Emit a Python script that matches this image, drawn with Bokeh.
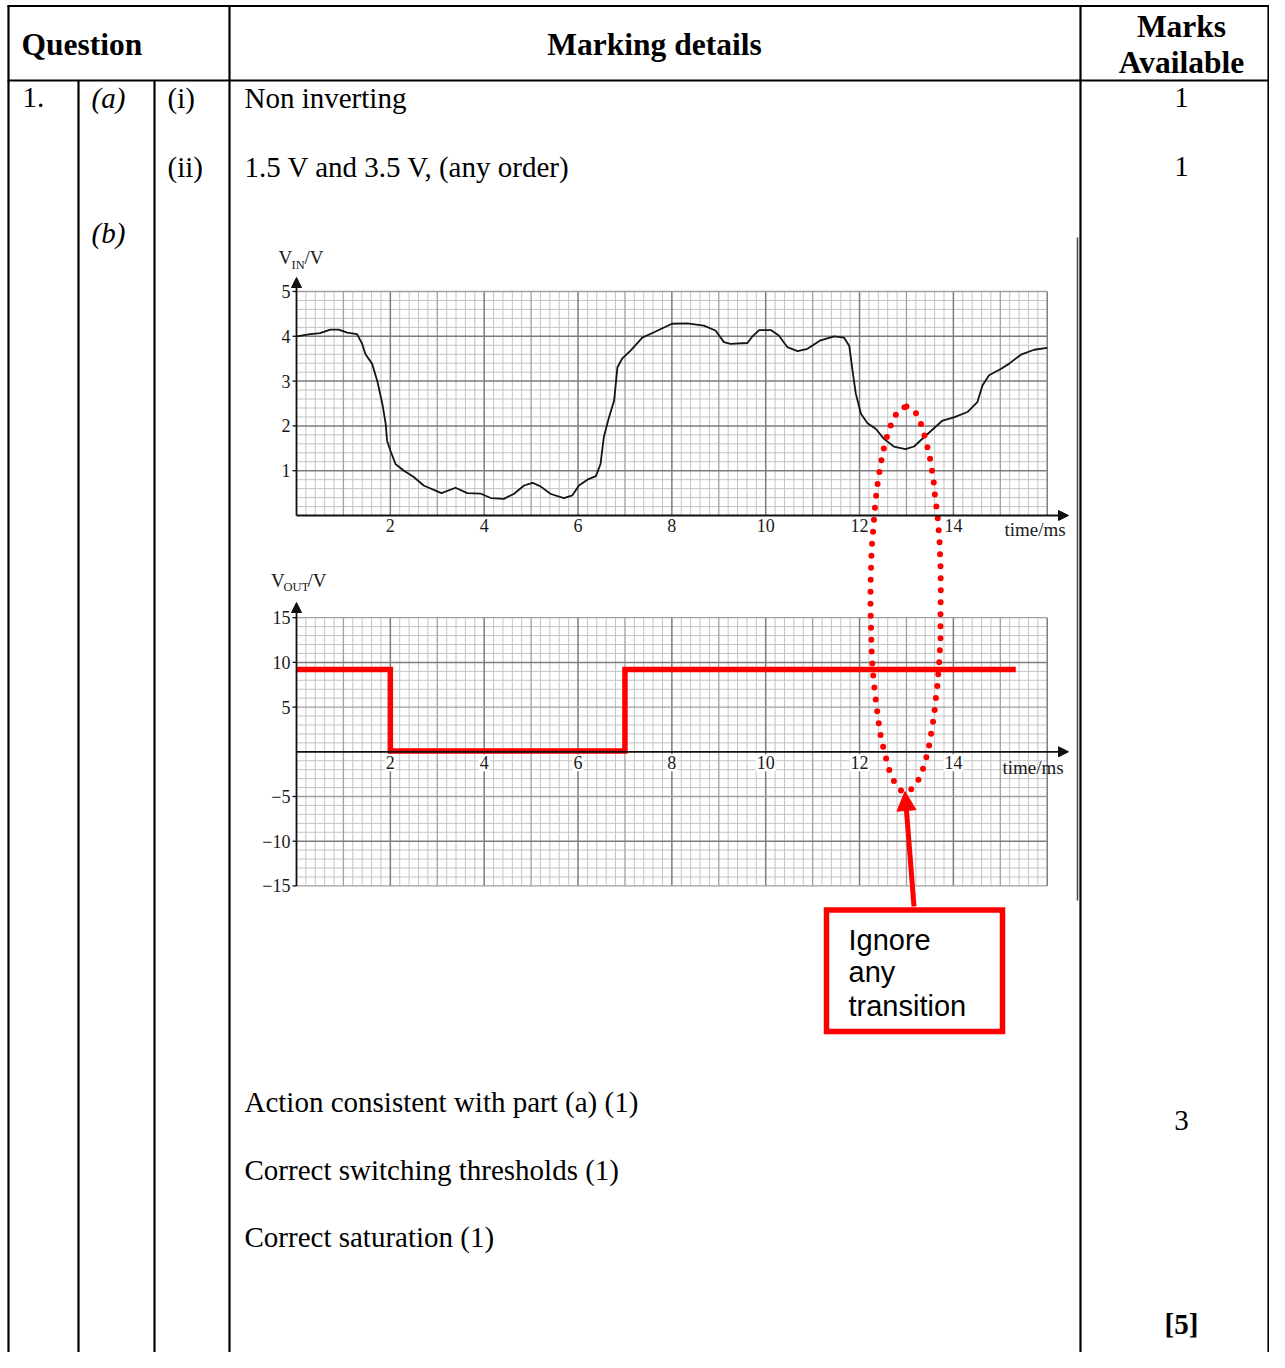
import numpy as np
from bokeh.plotting import figure
from bokeh.models import Range1d, Arrow, NormalHead
from bokeh.core.properties import value
from bokeh.embed import file_html
from bokeh.resources import INLINE

# ---------------- data ----------------
vin_t = [0, 0.3, 0.5, 0.72, 0.9, 1.08, 1.29, 1.4, 1.47, 1.61, 1.72, 1.83, 1.9, 1.93,
         2.0, 2.11, 2.29, 2.5, 2.71, 3.0, 3.09, 3.39, 3.64, 3.92, 4.14, 4.42, 4.63,
         4.85, 5.03, 5.2, 5.42, 5.7, 5.88, 6.02, 6.2, 6.38, 6.48, 6.55, 6.66, 6.77,
         6.84, 6.94, 7.12, 7.37, 7.62, 8.0, 8.33, 8.68, 8.93, 9.11, 9.25, 9.61, 9.72,
         9.86, 10.11, 10.28, 10.46, 10.68, 10.89, 11.17, 11.46, 11.67, 11.78, 11.85,
         11.92, 12.03, 12.17, 12.35, 12.52, 12.73, 12.98, 13.16, 13.45, 13.77, 14.01,
         14.3, 14.51, 14.62, 14.76, 15.01, 15.19, 15.44, 15.72, 16.0]
vin_v = [4.0, 4.05, 4.07, 4.15, 4.15, 4.08, 4.05, 3.83, 3.6, 3.39, 3.01, 2.49, 2.05, 1.67,
         1.45, 1.15, 1.0, 0.86, 0.67, 0.54, 0.5, 0.62, 0.5, 0.49, 0.39, 0.37, 0.48,
         0.67, 0.73, 0.65, 0.48, 0.39, 0.45, 0.67, 0.8, 0.88, 1.15, 1.75, 2.19, 2.57,
         3.31, 3.5, 3.68, 3.97, 4.09, 4.28, 4.29, 4.24, 4.13, 3.87, 3.83, 3.85, 4.0,
         4.14, 4.14, 4.02, 3.76, 3.67, 3.72, 3.91, 4.0, 3.97, 3.79, 3.24,
         2.72, 2.27, 2.06, 1.93, 1.71, 1.54, 1.48, 1.54, 1.82, 2.12, 2.19,
         2.31, 2.53, 2.9, 3.13, 3.27, 3.39, 3.59, 3.7, 3.74]
vout_t = [0, 2, 2, 7, 7, 15.33]
vout_v = [9.2, 9.2, 0.1, 0.1, 9.2, 9.2]

time_ticks = [2, 4, 6, 8, 10, 12, 14]
time_labels = ["2", "4", "6", "8", "10", "12", "14"]
vin_ticks = [1, 2, 3, 4, 5]
vin_labels = ["1", "2", "3", "4", "5"]
vout_ticks = [-15, -10, -5, 5, 10, 15]
vout_labels = ["\u221215", "\u221210", "\u22125", "5", "10", "15"]

header_texts = ["Question", "Marking details", "Marks", "Available"]
question_no = ["1."]
part_texts = ["(a)", "(b)"]
subpart_texts = ["(i)", "(ii)"]
answer_texts = ["Non inverting", "1.5 V and 3.5 V, (any order)",
                "Action consistent with part (a) (1)",
                "Correct switching thresholds (1)", "Correct saturation (1)"]
mark_texts = ["1", "1", "3"]
total_text = ["[5]"]
note_texts = ["Ignore", "any", "transition"]

# ---------------- layout ----------------
W, H = 1269, 1352
SERIF = value("Liberation Serif")
SANS = value("Liberation Sans")

p = figure(width=W, height=H, x_range=Range1d(0, W), y_range=Range1d(H, 0),
           output_backend="svg", toolbar_location=None,
           x_axis_location=None, y_axis_location=None, min_border=0,
           outline_line_color=None, background_fill_color="white",
           border_fill_color="white")
p.xgrid.visible = False
p.ygrid.visible = False

# chart scales (placement of the two graphs inside the cell)
T_PX, T_S = 296.0, 46.92      # px of t=0, px per ms
VI_PY, VI_S = 515.0, 44.8     # px of Vin=0, px per V
VO_PY, VO_S = 751.3, 8.94     # px of Vout=0, px per V
p.extra_x_ranges = {"t": Range1d((0 - T_PX) / T_S, (W - T_PX) / T_S)}
p.extra_y_ranges = {"vin": Range1d((VI_PY - H) / VI_S, VI_PY / VI_S),
                    "vout": Range1d((VO_PY - H) / VO_S, VO_PY / VO_S)}

# ---------------- table ----------------
p.segment(x0=[7, 7], y0=[5.5, 80], x1=[1269, 1269], y1=[5.5, 80], line_color="black", line_width=2.2)
p.segment(x0=[8, 78, 154, 229, 1080, 1268], y0=[5, 80, 80, 5, 5, 5],
          x1=[8, 78, 154, 229, 1080, 1268], y1=[1370] * 6, line_color="black", line_width=2.2)
p.segment(x0=[1077], y0=[237], x1=[1077], y1=[900], line_color="#444", line_width=1.5)

TXT = dict(text_baseline="middle", text_color="black", text_font=SERIF)
p.text(x=[21], y=[43.5], text=header_texts[:1], text_font_style="bold",
       text_font_size="31.5px", **TXT)
p.text(x=[654], y=[43.5], text=header_texts[1:2], text_font_style="bold",
       text_font_size="31.5px", text_align="center", **TXT)
p.text(x=[1181, 1181], y=[25.5, 61.5], text=header_texts[2:], text_font_style="bold",
       text_font_size="31.5px", text_align="center", **TXT)

p.text(x=[22], y=[97], text=question_no, text_font_size="29px", **TXT)
p.text(x=[91, 91], y=[97, 232], text=part_texts, text_font_style="italic",
       text_font_size="29px", **TXT)
p.text(x=[167, 167], y=[97, 166], text=subpart_texts, text_font_size="29px", **TXT)
p.text(x=[244] * 5, y=[97, 166, 1101, 1169, 1236], text=answer_texts,
       text_font_size="29px", **TXT)
p.text(x=[1181] * 3, y=[97, 166, 1120], text=mark_texts, text_font_size="29px",
       text_align="center", **TXT)
p.text(x=[1181], y=[1323], text=total_text, text_font_style="bold",
       text_font_size="29px", text_align="center", **TXT)

# ---------------- graph grids ----------------
ts = np.round(np.arange(0, 16.0001, 0.2), 3)
t_minor = [t for t in ts if abs(t - round(t)) > 1e-6]
t_odd = [float(t) for t in range(1, 16, 2)]
t_even = [float(t) for t in range(2, 17, 2)]
C_MIN, C_MED, C_MAJ = "#c4c4c4", "#a0a0a0", "#7c7c7c"

def vgrid(tlist, lo, hi, yname, color, width):
    p.segment(x0=tlist, y0=[lo] * len(tlist), x1=tlist, y1=[hi] * len(tlist),
              line_color=color, line_width=width, x_range_name="t", y_range_name=yname)

def hgrid(vlist, yname, color, width):
    p.segment(x0=[0] * len(vlist), y0=vlist, x1=[16] * len(vlist), y1=vlist,
              line_color=color, line_width=width, x_range_name="t", y_range_name=yname)

# Vin grid
vi_all = np.round(np.arange(0, 5.0001, 0.2), 3)
vi_minor = [v for v in vi_all if abs(v - round(v)) > 1e-6]
vgrid(t_minor, 0, 5, "vin", C_MIN, 1)
hgrid(vi_minor, "vin", C_MIN, 1)
vgrid(t_odd, 0, 5, "vin", C_MED, 1.3)
vgrid(t_even, 0, 5, "vin", C_MAJ, 1.5)
hgrid([1, 2, 3, 4], "vin", C_MAJ, 1.5)
hgrid([5], "vin", C_MED, 1.3)

# Vout grid
vo_minor = [v for v in range(-15, 16) if v % 5 != 0]
vgrid(t_minor, -15, 15, "vout", C_MIN, 1)
hgrid(vo_minor, "vout", C_MIN, 1)
vgrid(t_odd, -15, 15, "vout", C_MED, 1.3)
vgrid(t_even, -15, 15, "vout", C_MAJ, 1.5)
hgrid([-15, -5, 5, 15], "vout", C_MED, 1.3)
hgrid([-10, 10], "vout", C_MAJ, 1.5)

# axes with arrow heads
AX = "#111111"
for yname, ylo, ytip in [("vin", 0, (VI_PY - 277) / VI_S), ("vout", -15, (VO_PY - 602) / VO_S)]:
    p.add_layout(Arrow(end=NormalHead(size=10, fill_color=AX, line_color=AX), x_start=0, y_start=ylo,
                       x_end=0, y_end=ytip, line_color=AX, line_width=1.8,
                       x_range_name="t", y_range_name=yname))
    p.add_layout(Arrow(end=NormalHead(size=10, fill_color=AX, line_color=AX), x_start=0, y_start=0,
                       x_end=(1068 - T_PX) / T_S, y_end=0, line_color=AX, line_width=1.8,
                       x_range_name="t", y_range_name=yname))

# y tick marks
p.segment(x0=[-4 / T_S] * 5, y0=vin_ticks, x1=[0] * 5, y1=vin_ticks, line_color=AX,
          line_width=1.3, x_range_name="t", y_range_name="vin")
p.segment(x0=[-4 / T_S] * 6, y0=vout_ticks, x1=[0] * 6, y1=vout_ticks, line_color=AX,
          line_width=1.3, x_range_name="t", y_range_name="vout")

# tick labels
LBL = "#1a1a1a"
LT = dict(text_font=SERIF, text_font_size="18px", text_baseline="middle", text_color=LBL,
          x_range_name="t")
p.text(x=time_ticks, y=[-9.5 / VI_S] * 7, text=time_labels, text_align="center",
       y_range_name="vin", **LT)
p.text(x=[-6 / T_S] * 5, y=vin_ticks, text=vin_labels, text_align="right",
       y_range_name="vin", **LT)
p.rect(x=time_ticks, y=[-11 / VO_S] * 7, width=[11, 11, 11, 11, 20, 20, 20], height=17,
       width_units="screen", height_units="screen", fill_color="white", line_color=None,
       x_range_name="t", y_range_name="vout")
p.text(x=time_ticks, y=[-10.5 / VO_S] * 7, text=time_labels, text_align="center",
       y_range_name="vout", **LT)
p.text(x=[-6 / T_S] * 6, y=vout_ticks, text=vout_labels, text_align="right",
       y_range_name="vout", **LT)

# axis titles
AT = dict(text_font=SERIF, text_baseline="middle", text_color=LBL)
p.text(x=[1004, 1002], y=[529, 767], text=["time/ms", "time/ms"], text_font_size="19px", **AT)
p.text(x=[278, 270.5], y=[257, 579.5], text=["V", "V"], text_font_size="19px", **AT)
p.text(x=[291, 283], y=[264.3, 586.8], text=["IN", "OUT"], text_font_size="12.5px", **AT)
p.text(x=[304, 307], y=[257, 579.5], text=["/V", "/V"], text_font_size="19px", **AT)

# ---------------- series ----------------
p.line(vin_t, vin_v, line_color="#141414", line_width=1.8, line_join="round",
       x_range_name="t", y_range_name="vin")
p.line(vout_t, vout_v, line_color="#ff0000", line_width=5.5, line_join="miter",
       x_range_name="t", y_range_name="vout")

# ---------------- annotation (dotted loop, arrow, note box) ----------------
loop_x = [906, 914, 919, 923, 926, 929, 931, 933, 934, 935.5, 937, 938, 939, 940, 940.3, 940,
          940, 938.7, 937.7, 936.7, 935.3, 934, 932.3, 930.3, 928.3, 925.3, 921.7, 916.7, 908.7,
          903, 898.3, 892, 887.7, 884.7, 881.7, 879.3, 877.7, 876, 874.7, 873.3, 871.3, 870.7,
          870, 870, 870.7, 871, 872, 873, 874, 875, 876.3, 878, 880, 882.3, 885.3, 888.7, 893.3,
          900, 906]
loop_y = [406, 410, 419, 431, 443, 455, 467, 479, 491, 503, 515, 527, 540, 564, 588, 613,
          637, 662, 674, 687, 698, 711, 723, 735, 747, 759, 771, 782, 791,
          792, 788.3, 778.3, 766.7, 754.3, 742.7, 730.7, 718.3, 706, 694, 682, 657, 633,
          608, 587, 562, 549, 538, 525, 513, 501, 489, 477, 465, 452, 440, 429, 417,
          408, 406]
p.line(loop_x, loop_y, line_color="#ff0000", line_width=6, line_dash="0 12", line_cap="round",
       line_join="round")

p.add_layout(Arrow(end=NormalHead(size=19, fill_color="#ff0000", line_color="#ff0000"),
                   x_start=913.5, y_start=906, x_end=904.5, y_end=791,
                   line_color="#ff0000", line_width=5))
p.quad(left=[826], right=[1002], top=[909.5], bottom=[1031], fill_color="white",
       line_color="#ff0000", line_width=5.5, line_join="miter")
p.text(x=[848] * 3, y=[939.5, 971, 1005], text=note_texts, text_font=SANS,
       text_font_size="29px", text_baseline="middle", text_color="black")

open("out.html", "w").write(file_html(p, INLINE))
